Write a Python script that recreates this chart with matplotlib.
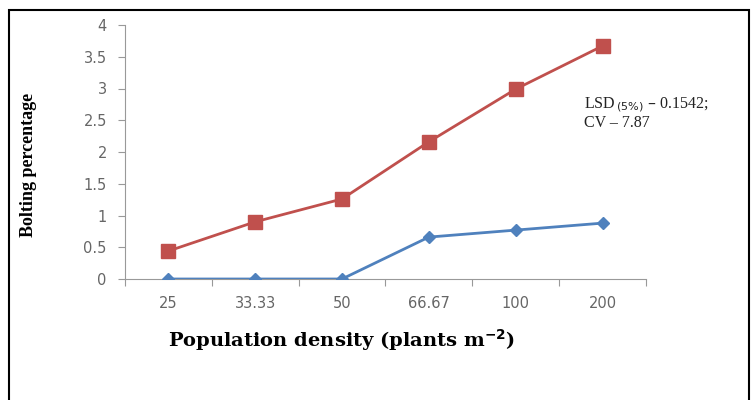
import matplotlib.pyplot as plt
from matplotlib.patches import Rectangle

categories = ["25", "33.33", "50", "66.67", "100", "200"]
red_series = [0.44, 0.90, 1.26, 2.16, 2.99, 3.67]
blue_series = [0.0, 0.0, 0.0, 0.66, 0.77, 0.88]
y_ticks = [0, 0.5, 1, 1.5, 2, 2.5, 3, 3.5, 4]
y_tick_labels = ["0", "0.5", "1", "1.5", "2", "2.5", "3", "3.5", "4"]

fig = plt.figure(figsize=(7.52, 4), dpi=100)
ax = fig.add_axes([0.166, 0.3025, 0.693, 0.635])

x = list(range(len(categories)))
ax.plot(x, blue_series, color="#4F81BD", lw=2, marker="D", markersize=6.5, zorder=3)
ax.plot(x, red_series, color="#C0504D", lw=2, marker="s", markersize=9.5, zorder=3)

ax.set_xlim(-0.5, len(categories) - 0.5)
ax.set_ylim(0, 4)
ax.set_yticks(y_ticks)
ax.set_yticklabels(y_tick_labels)
ax.set_xticks([i - 0.5 for i in range(len(categories) + 1)])
ax.set_xticklabels([])
ax.set_xticks(x, minor=True)
ax.set_xticklabels(categories, minor=True)
ax.tick_params(axis="x", which="minor", length=0, pad=12, labelsize=10.5, labelcolor="#666666")
ax.tick_params(axis="x", which="major", length=5, color="#999999")
ax.tick_params(axis="y", length=5, color="#999999", labelsize=10.5, labelcolor="#666666", pad=8)
for s in ["top", "right"]:
    ax.spines[s].set_visible(False)
for s in ["left", "bottom"]:
    ax.spines[s].set_color("#999999")

ax.set_ylabel("Bolting percentage", family="Liberation Serif", fontweight="bold", fontsize=13)
ax.yaxis.set_label_coords(-0.168, 0.449)
ax.set_xlabel("Population density (plants m$^{\\mathbf{-2}}$)", family="DejaVu Serif",
              fontweight="bold", fontsize=14)
ax.xaxis.set_label_coords(0.415, -0.19)

fig.text(0.777, 0.73, "LSD$_{\\,(5\\%)}$ \u2013 0.1542;", family="Liberation Serif", fontsize=11.5,
         color="#222222")
fig.text(0.777, 0.683, "CV \u2013 7.87", family="Liberation Serif", fontsize=11.5, color="#222222")

fig.patches.append(Rectangle((9 / 752, -0.05), 740 / 752, 1 - 10 / 400 + 0.05,
                             transform=fig.transFigure, fill=False, lw=1.5, ec="black"))

fig.savefig("out.png", dpi=100)
